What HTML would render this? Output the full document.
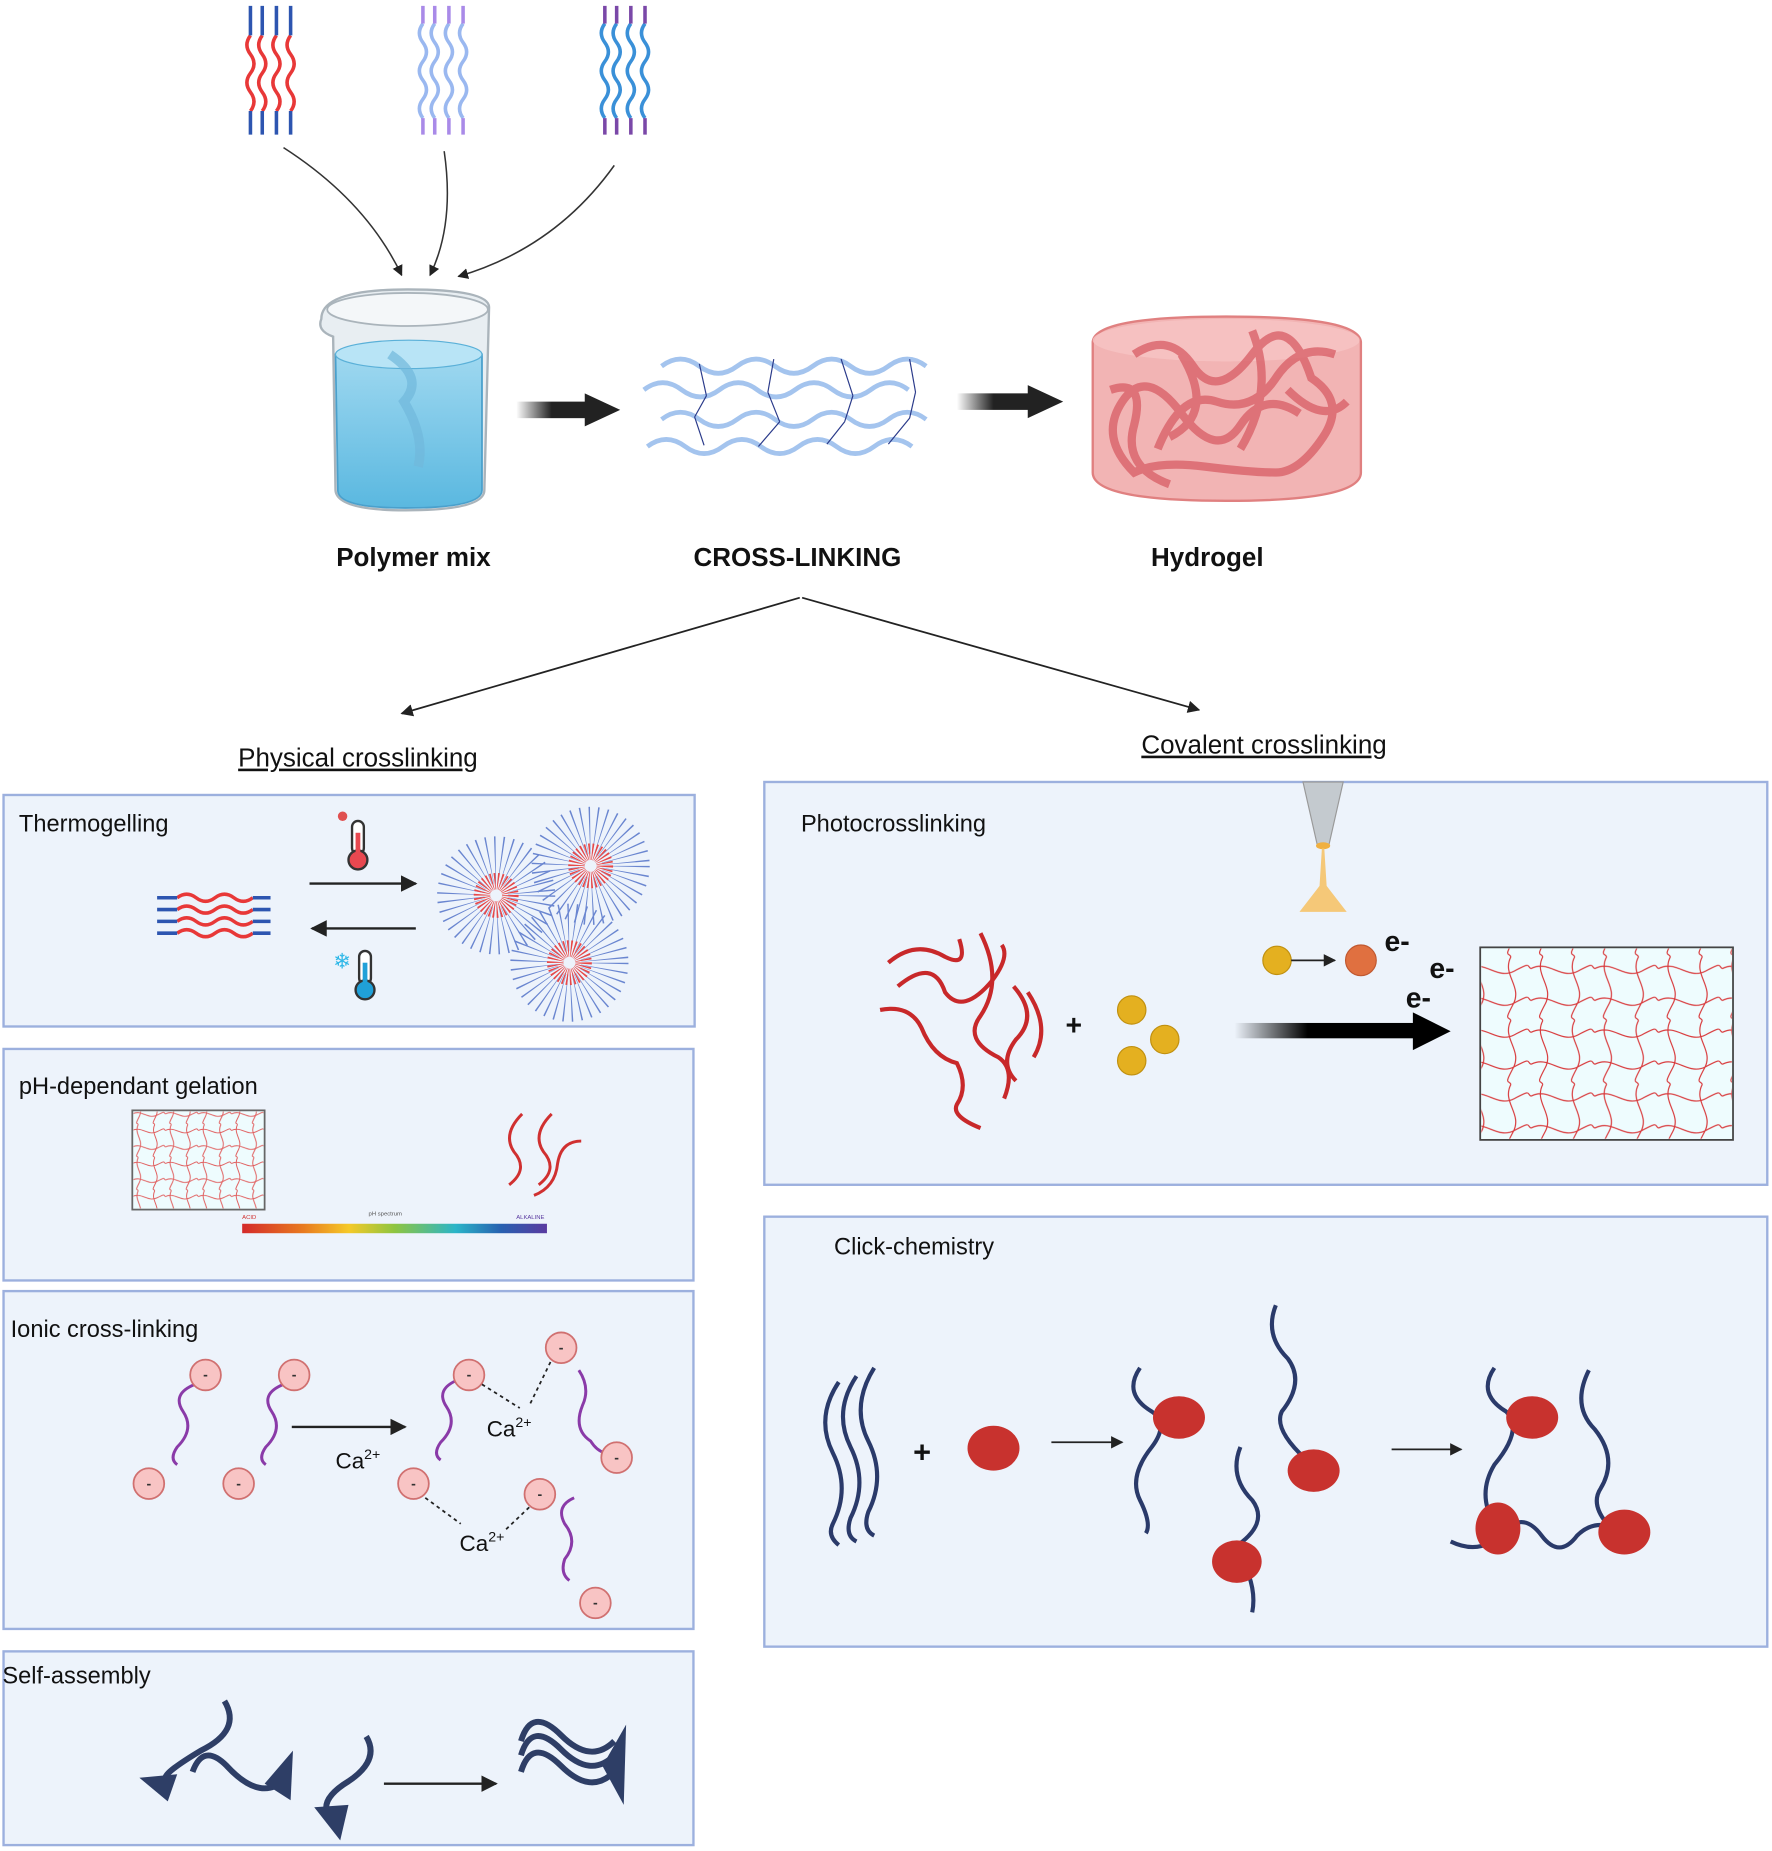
<!DOCTYPE html>
<html><head><meta charset="utf-8"><style>
html,body{margin:0;padding:0;background:#fff}
svg{display:block}
text{font-family:"Liberation Sans",sans-serif}
</style></head><body>
<svg width="1772" height="1851" viewBox="0 0 1500 1567" preserveAspectRatio="none" xmlns="http://www.w3.org/2000/svg">
<defs>
<marker id="ah" viewBox="0 0 10 10" refX="9" refY="5" markerWidth="7" markerHeight="7" orient="auto"><path d="M0,0L10,5L0,10z" fill="#222"/></marker>
<linearGradient id="fadeL" x1="0" x2="1"><stop offset="0" stop-color="#222" stop-opacity="0"/><stop offset="0.5" stop-color="#222"/></linearGradient>
<linearGradient id="fadeB" x1="0" x2="1"><stop offset="0" stop-color="#000" stop-opacity="0"/><stop offset="0.4" stop-color="#000"/></linearGradient>
<linearGradient id="ph" x1="0" x2="1"><stop offset="0" stop-color="#d42a2a"/><stop offset="0.2" stop-color="#e87a20"/><stop offset="0.35" stop-color="#f5c928"/><stop offset="0.5" stop-color="#8ec540"/><stop offset="0.7" stop-color="#2bb5c8"/><stop offset="0.85" stop-color="#2860b0"/><stop offset="1" stop-color="#5a3aa0"/></linearGradient>
<linearGradient id="water" x1="0" y1="0" x2="0" y2="1"><stop offset="0" stop-color="#9fd8f0"/><stop offset="1" stop-color="#5ab8e0"/></linearGradient>
<pattern id="net" width="54" height="54" patternUnits="userSpaceOnUse">
<path d="M0,10 C15,2 25,20 40,12 S50,8 54,10 M0,37 C15,29 25,47 40,39 S50,35 54,37 M10,0 C2,15 20,25 12,40 S8,50 10,54 M37,0 C29,15 47,25 39,40 S35,50 37,54" fill="none" stroke="#d8383a" stroke-width="1"/>
</pattern>
<pattern id="net2" width="28" height="28" patternUnits="userSpaceOnUse">
<path d="M0,5 C8,1 13,10 21,6 S26,4 28,5 M0,19 C8,15 13,24 21,20 S26,18 28,19 M5,0 C1,8 10,13 6,21 S4,26 5,28 M19,0 C15,8 24,13 20,21 S18,26 19,28" fill="none" stroke="#e05a5a" stroke-width="0.8"/>
</pattern>
</defs>

<g fill="none" stroke-width="3">
<g stroke="#e83838"><path d="M212,30 q-6,8 0,16 t0,16 t0,16 t0,16"/><path d="M222,30 q-6,8 0,16 t0,16 t0,16 t0,16"/><path d="M234,30 q-6,8 0,16 t0,16 t0,16 t0,16"/><path d="M246,30 q-6,8 0,16 t0,16 t0,16 t0,16"/></g>
<g stroke="#2d55b0"><path d="M212,5 v25 M222,5 v25 M234,5 v25 M246,5 v25 M212,94 v20 M222,94 v20 M234,94 v20 M246,94 v20"/></g>
<g stroke="#9ab8f0"><path d="M358,20 q-6,8 0,16 t0,16 t0,16 t0,16 t0,16"/><path d="M368,20 q-6,8 0,16 t0,16 t0,16 t0,16 t0,16"/><path d="M380,20 q-6,8 0,16 t0,16 t0,16 t0,16 t0,16"/><path d="M392,20 q-6,8 0,16 t0,16 t0,16 t0,16 t0,16"/></g>
<g stroke="#a98ae8"><path d="M358,5 v15 M368,5 v15 M380,5 v15 M392,5 v15 M358,100 v14 M368,100 v14 M380,100 v14 M392,100 v14"/></g>
<g stroke="#3a90d8"><path d="M512,20 q-6,8 0,16 t0,16 t0,16 t0,16 t0,16"/><path d="M522,20 q-6,8 0,16 t0,16 t0,16 t0,16 t0,16"/><path d="M534,20 q-6,8 0,16 t0,16 t0,16 t0,16 t0,16"/><path d="M546,20 q-6,8 0,16 t0,16 t0,16 t0,16 t0,16"/></g>
<g stroke="#7a48a8"><path d="M512,5 v15 M522,5 v15 M534,5 v15 M546,5 v15 M512,100 v14 M522,100 v14 M534,100 v14 M546,100 v14"/></g>
</g>
<g fill="none" stroke="#333" stroke-width="1.3" marker-end="url(#ah)">
<path d="M240,125 Q310,170 340,233"/>
<path d="M376,128 Q385,190 364,233"/>
<path d="M520,140 Q470,210 388,234"/>
</g>

<path d="M272,270 Q272,245 345,245 Q414,245 414,260 L410,415 Q410,432 343,432 Q285,432 284,415 L282,285 Q268,280 272,270z" fill="#e8eef2" stroke="#aab4bb" stroke-width="2"/>
<path d="M284,300 L408,300 L408,415 Q408,430 343,430 Q286,430 286,415z" fill="url(#water)" stroke="#4aa0cc" stroke-width="1.5"/>
<ellipse cx="346" cy="300" rx="62" ry="12" fill="#b8e4f6" stroke="#5ab0d8"/>
<path d="M330,300 Q360,320 342,340 Q360,370 354,395" fill="none" stroke="#70b8dc" stroke-width="8" opacity="0.7"/>
<ellipse cx="345" cy="262" rx="68" ry="14" fill="#f4f7f9" stroke="#aab4bb" stroke-width="1.5"/>

<rect x="437" y="340" width="60" height="14" fill="url(#fadeL)"/><path d="M495,333 L525,347 L495,361z" fill="#222"/>
<rect x="810" y="333" width="62" height="14" fill="url(#fadeL)"/><path d="M870,326 L900,340 L870,354z" fill="#222"/>

<g fill="none" stroke="#a4c4ee" stroke-width="4">
<path d="M560,310 q16,-12 32,0 t32,0 t32,0 t32,0 t32,0 t32,0 t32,0"/>
<path d="M545,330 q16,-12 32,0 t32,0 t32,0 t32,0 t32,0 t32,0 t32,0"/>
<path d="M560,355 q16,-12 32,0 t32,0 t32,0 t32,0 t32,0 t32,0 t32,0"/>
<path d="M548,378 q16,-12 32,0 t32,0 t32,0 t32,0 t32,0 t32,0 t32,0"/>
</g>
<g stroke="#2a3a8a" stroke-width="1"><path d="M592,308 L598,335 M655,304 L650,332 M712,304 L722,335 M770,304 L775,332 M598,335 L588,353 M650,332 L660,357 M722,335 L715,357 M588,353 L596,377 M660,357 L642,378 M715,357 L700,376 M775,332 L770,354 M770,354 L752,376"/></g>

<path d="M925,290 Q925,268 1038,268 Q1152,268 1152,290 L1152,400 Q1152,424 1038,424 Q925,424 925,400z" fill="#f2b4b4" stroke="#e08080" stroke-width="2"/>
<ellipse cx="1038" cy="288" rx="113" ry="18" fill="#f6c4c4" opacity="0.8"/>
<g fill="none" stroke="#d85c64" stroke-width="7" opacity="0.75">
<path d="M960,300 Q990,280 1010,310 T1060,300 T1110,320 Q1140,340 1120,370 T1080,400 T1020,395 T960,400 Q930,370 950,340 T1000,350 T1050,360 T1100,350"/>
<path d="M980,380 Q1000,330 1030,340 T1080,320 T1130,300 M1000,300 Q1030,350 990,370 M1060,280 Q1080,330 1050,380"/>
<path d="M940,330 Q970,320 960,360 Q950,395 990,410 M1090,330 Q1120,360 1140,340"/>
</g>

<g font-weight="bold" font-size="22" fill="#111" text-anchor="middle">
<text x="350" y="479">Polymer mix</text><text x="675" y="479">CROSS-LINKING</text><text x="1022" y="479">Hydrogel</text>
</g>
<g fill="none" stroke="#222" stroke-width="1.5" marker-end="url(#ah)">
<path d="M677,506 L340,604"/><path d="M679,506 L1015,601"/>
</g>
<g font-size="22" fill="#111" text-anchor="middle" text-decoration="underline">
<text x="303" y="649">Physical crosslinking </text><text x="1070" y="638">Covalent crosslinking </text>
</g>

<g fill="#edf3fb" stroke="#9cb0de" stroke-width="2">
<rect x="3" y="673" width="585" height="196"/>
<rect x="3" y="888" width="584" height="196"/>
<rect x="3" y="1093" width="584" height="286"/>
<rect x="3" y="1398" width="584" height="164"/>
<rect x="647" y="662" width="849" height="341"/>
<rect x="647" y="1030" width="849" height="364"/>
</g>
<g font-size="20" fill="#111">
<text x="16" y="704">Thermogelling</text>
<text x="16" y="926">pH-dependant gelation</text>
<text x="9" y="1132">Ionic cross-linking</text>
<text x="2" y="1425">Self-assembly</text>
<text x="678" y="704">Photocrosslinking</text>
<text x="706" y="1062">Click-chemistry</text>
</g>

<g fill="none" stroke-width="3">
<path d="M150,760 q8,-6 16,0 t16,0 t16,0 t16,0" stroke="#e83838"/>
<path d="M150,770 q8,-6 16,0 t16,0 t16,0 t16,0" stroke="#e83838"/>
<path d="M150,780 q8,-6 16,0 t16,0 t16,0 t16,0" stroke="#e83838"/>
<path d="M150,790 q8,-6 16,0 t16,0 t16,0 t16,0" stroke="#e83838"/>
<path d="M133,760 h17 M214,760 h15 M133,770 h17 M214,770 h15 M133,780 h17 M214,780 h15 M133,790 h17 M214,790 h15" stroke="#2d55b0"/>
</g>
<path d="M262,748 L352,748" stroke="#222" stroke-width="2" marker-end="url(#ah)"/>
<path d="M352,786 L264,786" stroke="#222" stroke-width="2" marker-end="url(#ah)"/>
<g><rect x="298" y="695" width="10" height="28" rx="5" fill="#fff" stroke="#333" stroke-width="2"/><circle cx="303" cy="728" r="8" fill="#e84850" stroke="#333" stroke-width="2"/><rect x="301" y="705" width="4" height="20" fill="#e84850"/><circle cx="290" cy="691" r="4" fill="#e05050"/></g>
<g><rect x="304" y="805" width="10" height="28" rx="5" fill="#fff" stroke="#333" stroke-width="2"/><circle cx="309" cy="838" r="8" fill="#20a0d8" stroke="#333" stroke-width="2"/><rect x="307" y="815" width="4" height="20" fill="#20a0d8"/><text x="282" y="820" font-size="18" fill="#30b8e8">❄</text></g>
<g fill="none">
<circle cx="420" cy="758" r="30" stroke="#6a86d0" stroke-width="40" stroke-dasharray="0.8 4.2"/>
<circle cx="500" cy="733" r="30" stroke="#6a86d0" stroke-width="40" stroke-dasharray="0.8 4.2"/>
<circle cx="482" cy="815" r="30" stroke="#6a86d0" stroke-width="40" stroke-dasharray="0.8 4.2"/>
<circle cx="420" cy="758" r="12" stroke="#e84848" stroke-width="14" stroke-dasharray="1 1.5"/>
<circle cx="500" cy="733" r="12" stroke="#e84848" stroke-width="14" stroke-dasharray="1 1.5"/>
<circle cx="482" cy="815" r="12" stroke="#e84848" stroke-width="14" stroke-dasharray="1 1.5"/>
</g>

<rect x="112" y="940" width="112" height="84" fill="#eefcfe" stroke="#666" stroke-width="1.5"/>
<rect x="113" y="941" width="110" height="82" fill="url(#net2)"/>
<rect x="205" y="1036" width="258" height="8" fill="url(#ph)"/>
<text x="205" y="1032" font-size="5" fill="#d03030">ACID</text><text x="312" y="1029" font-size="5" fill="#555">pH spectrum</text><text x="437" y="1032" font-size="5" fill="#5a3aa0">ALKALINE</text>
<g fill="none" stroke="#d03030" stroke-width="2.5">
<path d="M442,943 Q425,960 435,975 Q448,990 431,1003"/><path d="M467,943 Q450,960 460,975 Q473,990 456,1003"/><path d="M492,966 Q475,966 472,985 Q470,1005 452,1012"/>
</g>

<g fill="none" stroke="#8a3aa8" stroke-width="2.5">
<path d="M165,1172 Q145,1180 155,1195 Q165,1210 150,1225 Q143,1235 150,1240"/>
<path d="M240,1172 Q220,1180 230,1195 Q240,1210 225,1225 Q218,1235 225,1240"/>
<path d="M388,1168 Q368,1176 378,1191 Q388,1206 373,1221 Q366,1231 373,1236"/>
<path d="M490,1160 Q500,1175 493,1190 Q485,1210 500,1220 Q505,1228 512,1230"/>
<path d="M486,1268 Q470,1275 478,1290 Q490,1305 478,1320 Q474,1332 482,1338"/>
</g>
<g fill="#f8c4c4" stroke="#d07070" stroke-width="1.5">
<circle cx="174" cy="1164" r="13"/><circle cx="249" cy="1164" r="13"/><circle cx="126" cy="1256" r="13"/><circle cx="202" cy="1256" r="13"/>
<circle cx="397" cy="1164" r="13"/><circle cx="475" cy="1141" r="13"/><circle cx="522" cy="1234" r="13"/><circle cx="350" cy="1256" r="13"/><circle cx="457" cy="1265" r="13"/><circle cx="504" cy="1357" r="13"/>
</g>
<g font-size="12" font-weight="bold" text-anchor="middle" fill="#333">
<text x="174" y="1168">-</text><text x="249" y="1168">-</text><text x="126" y="1260">-</text><text x="202" y="1260">-</text><text x="397" y="1168">-</text><text x="475" y="1145">-</text><text x="522" y="1238">-</text><text x="350" y="1260">-</text><text x="457" y="1269">-</text><text x="504" y="1361">-</text>
</g>
<path d="M247,1208 L343,1208" stroke="#222" stroke-width="2" marker-end="url(#ah)"/>
<g stroke="#222" stroke-width="1.5" stroke-dasharray="3 3" fill="none"><path d="M408,1172 L440,1192 M466,1153 L448,1190 M360,1268 L390,1290 M448,1276 L428,1295"/></g>
<g font-size="19" fill="#111"><text x="284" y="1243">Ca<tspan font-size="12" dy="-8">2+</tspan></text><text x="412" y="1216">Ca<tspan font-size="12" dy="-8">2+</tspan></text><text x="389" y="1313">Ca<tspan font-size="12" dy="-8">2+</tspan></text></g>

<g fill="none" stroke="#2e3e66" stroke-width="5">
<path d="M190,1440 Q205,1465 170,1482 Q140,1500 140,1505"/>
<path d="M163,1500 Q172,1475 192,1495 Q215,1520 233,1512"/>
<path d="M310,1470 Q322,1490 295,1508 Q272,1522 277,1535"/>
<path d="M441,1500 Q450,1470 475,1495 Q500,1520 520,1500"/><path d="M441,1486 Q450,1456 475,1481 Q500,1506 520,1486"/><path d="M441,1474 Q450,1444 475,1469 Q500,1494 520,1474"/>
</g>
<g fill="#2e3e66"><path d="M142,1525 L118,1505 L150,1502z"/><path d="M248,1482 L246,1524 L224,1510z"/><path d="M288,1558 L266,1530 L295,1528z"/><path d="M530,1460 L528,1528 L510,1495z"/></g>
<path d="M325,1510 L420,1510" stroke="#222" stroke-width="2" marker-end="url(#ah)"/>

<path d="M1103,662 L1137,662 L1125,715 L1115,715z" fill="#c4cacf" stroke="#999"/>
<ellipse cx="1120" cy="716" rx="6" ry="3" fill="#f0b040"/>
<path d="M1119,718 L1121,718 L1123,750 L1140,772 L1100,772 L1117,750z" fill="#f6c060" opacity="0.85"/>
<g fill="none" stroke="#c8282a" stroke-width="3.5">
<path d="M752,815 Q775,795 800,810 Q820,820 812,795 M760,835 Q790,810 800,840 Q815,860 840,830 Q855,810 848,800"/>
<path d="M830,790 Q850,830 830,860 Q815,880 845,895 Q860,905 850,930"/>
<path d="M745,855 Q770,850 780,870 Q790,895 810,900 Q820,920 810,935 Q805,945 830,955"/>
<path d="M858,835 Q880,860 860,880 Q845,900 860,915 M870,840 Q890,870 875,895"/>
</g>
<text x="902" y="876" font-size="24" font-weight="bold" fill="#111">+</text>
<g fill="#e4b020" stroke="#c09010"><circle cx="958" cy="855" r="12"/><circle cx="986" cy="880" r="12"/><circle cx="958" cy="898" r="12"/><circle cx="1081" cy="813" r="12"/></g>
<circle cx="1152" cy="813" r="13" fill="#e07040" stroke="#c05830"/>
<path d="M1093,813 L1130,813" stroke="#222" stroke-width="1.5" marker-end="url(#ah)"/>
<g font-size="24" font-weight="bold" fill="#111"><text x="1172" y="805">e-</text><text x="1210" y="828">e-</text><text x="1190" y="853">e-</text></g>
<rect x="1045" y="866" width="155" height="13" fill="url(#fadeB)"/><path d="M1196,857 L1228,873 L1196,889z" fill="#000"/>
<rect x="1253" y="802" width="214" height="163" fill="#eefcfe" stroke="#444" stroke-width="1.5"/>
<rect x="1254" y="803" width="212" height="161" fill="url(#net)"/>

<g fill="none" stroke="#2a3a6a" stroke-width="3.5">
<path d="M710,1170 Q690,1200 705,1230 Q720,1260 705,1290 Q700,1300 710,1308"/>
<path d="M725,1165 Q705,1195 720,1225 Q735,1255 720,1285 Q715,1300 725,1305"/>
<path d="M740,1158 Q720,1190 735,1220 Q750,1250 735,1280 Q730,1295 740,1300"/>
<path d="M965,1158 Q950,1180 975,1195 Q990,1205 975,1225 Q955,1250 965,1270 Q975,1290 970,1298"/>
<path d="M1080,1105 Q1070,1130 1090,1150 Q1105,1170 1085,1195 Q1078,1210 1105,1235"/>
<path d="M1050,1225 Q1040,1250 1060,1270 Q1075,1290 1045,1310 Q1065,1340 1060,1365"/>
<path d="M1265,1158 Q1250,1180 1275,1195 Q1290,1210 1265,1240 Q1250,1265 1265,1290"/>
<path d="M1345,1160 Q1330,1190 1350,1210 Q1370,1235 1355,1260 Q1345,1275 1365,1295"/>
<path d="M1228,1305 Q1255,1318 1275,1295 Q1290,1280 1305,1300 Q1320,1320 1335,1300 Q1350,1285 1370,1295"/>
</g>
<text x="773" y="1238" font-size="26" font-weight="bold" fill="#111">+</text>
<g fill="#c8322e">
<ellipse cx="841" cy="1226" rx="22" ry="19"/><ellipse cx="998" cy="1200" rx="22" ry="18"/><ellipse cx="1112" cy="1245" rx="22" ry="18"/><ellipse cx="1047" cy="1322" rx="21" ry="18"/>
<ellipse cx="1297" cy="1200" rx="22" ry="18"/><ellipse cx="1268" cy="1294" rx="19" ry="22"/><ellipse cx="1375" cy="1297" rx="22" ry="19"/>
</g>
<path d="M890,1221 L950,1221" stroke="#222" stroke-width="1.5" marker-end="url(#ah)"/>
<path d="M1178,1227 L1237,1227" stroke="#222" stroke-width="1.5" marker-end="url(#ah)"/>
</svg>
</body></html>
